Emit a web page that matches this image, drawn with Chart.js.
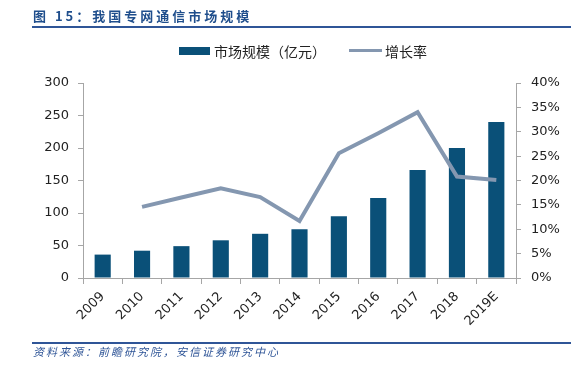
<!DOCTYPE html>
<html><head><meta charset="utf-8">
<script src="https://cdn.jsdelivr.net/npm/chart.js@4"></script>
<style>
html,body{margin:0;padding:0;background:#fff;}
#wrap{position:relative;width:579px;height:366px;overflow:hidden;font-family:"Noto Sans CJK SC","Noto Sans",sans-serif;}
#c{position:absolute;left:0;top:0;}
#title{position:absolute;left:33px;top:6px;font-size:13px;font-weight:bold;color:#1F4E8C;letter-spacing:3px;white-space:nowrap;}
#tline{position:absolute;left:32px;top:26px;width:539px;height:2px;background:#2F5597;}
#fline{position:absolute;left:32px;top:342px;width:539px;height:2px;background:#2F5597;}
#foot{position:absolute;left:33px;top:343px;font-size:11px;font-style:italic;color:#2F5597;letter-spacing:2px;white-space:nowrap;}
.lg{position:absolute;top:41px;font-size:14px;color:#222;white-space:nowrap;}
</style></head>
<body><div id="wrap">
<canvas id="c" width="579" height="366"></canvas>
<div id="title">图 15：我国专网通信市场规模</div>
<div id="tline"></div>
<div style="position:absolute;left:179px;top:47px;width:31px;height:8px;background:#0a5078"></div>
<div class="lg" style="left:214px">市场规模（亿元）</div>
<div style="position:absolute;left:349px;top:49px;width:33px;height:3px;background:#8497B0"></div>
<div class="lg" style="left:385px">增长率</div>
<div id="fline"></div>
<div id="foot">资料来源：前瞻研究院，安信证券研究中心</div>
</div>
<script>
const categories = ["2009","2010","2011","2012","2013","2014","2015","2016","2017","2018","2019E"];
const marketSize = [36,42,49,58,68,75,95,123,166,200,240];
const growthRate = [null,14.6,16.5,18.4,16.6,11.7,25.6,29.7,34.0,20.8,20.1];
const leftTicks = [0,50,100,150,200,250,300];
const rightTicks = [0,5,10,15,20,25,30,35,40];

const tickFont = {family:"'DejaVu Sans', sans-serif", size:13};
new Chart(document.getElementById('c'), {
  data: {
    labels: categories,
    datasets: [
      {type:'line', label:'增长率', data: growthRate, yAxisID:'y1', borderColor:'#8497B0', borderWidth:4, pointRadius:0, tension:0, spanGaps:false, order:0},
      {type:'bar', label:'市场规模（亿元）', data: marketSize, yAxisID:'y', backgroundColor:'#0a5078', categoryPercentage:1, barPercentage:0.41, order:1}
    ]
  },
  options: {
    responsive:false, animation:false,
    layout:{padding:{top:83,left:0,right:0,bottom:0}},
    plugins:{legend:{display:false}, tooltip:{enabled:false}},
    scales:{
      x:{
        offset:true,
        grid:{display:true, drawOnChartArea:false, offset:true, tickLength:6, color:'#a6a6a6'},
        border:{color:'#a6a6a6', width:1},
        ticks:{font:tickFont, color:'#222', maxRotation:45, minRotation:45, padding:5},
        afterFit(s){ s.height = 88; }
      },
      y:{
        position:'left', min:0, max:300,
        afterBuildTicks(s){ s.ticks = leftTicks.map(v=>({value:v})); },
        grid:{display:true, drawOnChartArea:false, tickLength:5, color:'#a6a6a6'},
        border:{color:'#a6a6a6', width:1},
        ticks:{font:tickFont, color:'#222', padding:9},
        afterFit(s){ s.width = 83; }
      },
      y1:{
        position:'right', min:0, max:40,
        afterBuildTicks(s){ s.ticks = rightTicks.map(v=>({value:v})); },
        grid:{display:true, drawOnChartArea:false, tickLength:5, color:'#a6a6a6'},
        border:{color:'#a6a6a6', width:1},
        ticks:{font:tickFont, color:'#222', padding:10, callback:v=>v+'%'},
        afterFit(s){ s.width = 63; }
      }
    }
  }
});
</script>
</body></html>
